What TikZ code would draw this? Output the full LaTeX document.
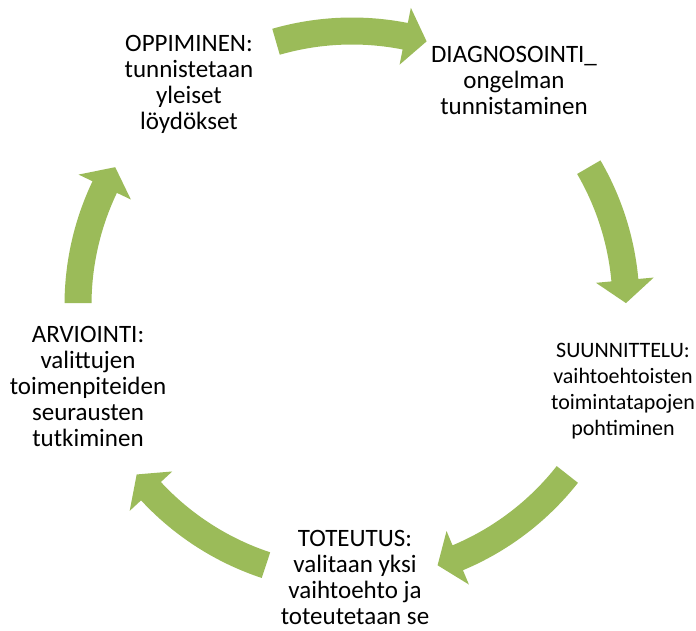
\documentclass[tikz,border=0pt]{standalone}
\usepackage{fontspec}
\setmainfont{Carlito}
\definecolor{arrowgreen}{HTML}{9BBB59}
\tikzset{
  label/.style={align=center, inner sep=0pt, font=\fontsize{25}{26}\selectfont, text=black},
  smalllabel/.style={label, font=\fontsize{22}{26}\selectfont},
}
% #1 tail angle, #2 head-back angle, #3 tip angle
\newcommand{\cyclearrow}[3]{%
  \fill[arrowgreen] (#1:287.5pt) arc[start angle=#1, end angle=#2, radius=287.5pt]
    -- (#2:303pt) -- (#3:274pt) -- (#2:245pt) -- (#2:260.5pt)
    arc[start angle=#2, end angle=#1, radius=260.5pt] -- cycle;}
\begin{document}
\begin{tikzpicture}[x=1pt,y=1pt]
\useasboundingbox (0,0) rectangle (696,-630);
\node[label] (oppiminen) at (189,-84) {OPPIMINEN:\\tunnistetaan\\yleiset\\löydökset};
\node[label] (diagnosointi) at (514,-80) {DIAGNOSOINTI\_\\ongelman\\tunnistaminen};
\node[smalllabel] (suunnittelu) at (623,-391) {SUUNNITTELU:\\vaihtoehtoisten\\toimintatapojen\\pohtiminen};
\node[label] (toteutus) at (355,-577) {TOTEUTUS:\\valitaan yksi\\vaihtoehto ja\\toteutetaan se};
\node[label] (arviointi) at (88,-386) {ARVIOINTI:\\valittujen\\toimenpiteiden\\seurausten\\tutkiminen};
\begin{scope}[shift={(352,-305)}]
  \cyclearrow{106.1}{78.8}{74.2}
  \cyclearrow{30.2}{5.2}{0.4}
  \cyclearrow{-38.2}{-67.3}{-71.8}
  \cyclearrow{251.7}{222.8}{218.2}
  \cyclearrow{179.6}{154.5}{149.8}
\end{scope}
\end{tikzpicture}
\end{document}
